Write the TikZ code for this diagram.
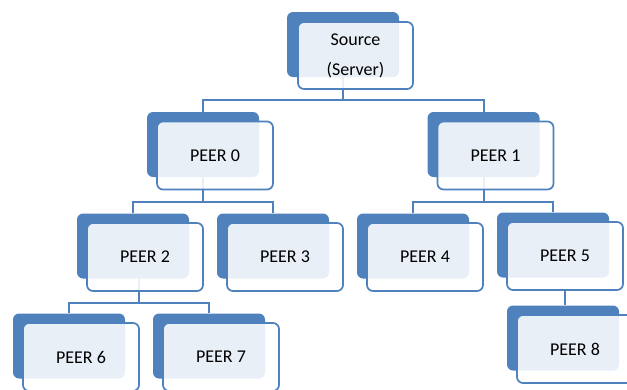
\documentclass[tikz,border=0pt]{standalone}
\usepackage{fontspec}
\setmainfont{Carlito}
\usetikzlibrary{positioning, backgrounds, calc}
\definecolor{hblue}{HTML}{4F81BD}
\tikzset{
  backbox/.style={rectangle, rounded corners=6pt, fill=hblue, minimum width=112pt,
    minimum height=65pt, inner sep=0pt},
  frontbox/.style={rectangle, draw=hblue, line width=1.7pt, rounded corners=6pt,
    fill=white, fill opacity=0.88, text opacity=1, minimum width=116pt,
    minimum height=68pt, align=center, inner sep=0pt,
    font=\fontsize{18}{30}\selectfont},
  link/.style={draw=hblue, line width=2pt},
}

\begin{document}
\begin{tikzpicture}[x=1pt, y=-1pt]
  \clip (0,0) rectangle (627,389);

  % Top: source
  \node[backbox] (src) at (343,44.5) {};
  \node[frontbox, minimum width=115pt, minimum height=67pt] (srcf) at ($(src)+(12.5,11)$) {Source\\(Server)};

  % Level 1
  \node[backbox] (p0) at (203,144.5) {};
  \node[frontbox] (p0f) at ($(p0)+(12,11)$) {PEER 0};
  \node[backbox] (p1) at (483.5,144.5) {};
  \node[frontbox] (p1f) at ($(p1)+(12,11)$) {PEER 1};

  % Level 2
  \node[backbox] (p2) at (133,246) {};
  \node[frontbox] (p2f) at ($(p2)+(12,11)$) {PEER 2};
  \node[backbox] (p3) at (273,246) {};
  \node[frontbox] (p3f) at ($(p3)+(12,11)$) {PEER 3};
  \node[backbox] (p4) at (413,246) {};
  \node[frontbox] (p4f) at ($(p4)+(12,11)$) {PEER 4};
  \node[backbox] (p5) at (553,245) {};
  \node[frontbox] (p5f) at ($(p5)+(12,11)$) {PEER 5};

  % Level 3
  \node[backbox] (p6) at (69,346) {};
  \node[frontbox] (p6f) at ($(p6)+(12,11)$) {PEER 6};
  \node[backbox] (p7) at (209,346) {};
  \node[frontbox] (p7f) at ($(p7)+(12,11)$) {PEER 7};
  \node[backbox] (p8) at (563,338) {};
  \node[frontbox] (p8f) at ($(p8)+(12,11)$) {PEER 8};

  % Connectors
  \begin{scope}[on background layer]
    \draw[link] (src.south) -- ++(0,23) -| (p0.north);
    \draw[link] (src.south) -- ++(0,23) -| (p1.north);
    \draw[link] (p0.south) -- ++(0,25) -| (p2.north);
    \draw[link] (p0.south) -- ++(0,25) -| (p3.north);
    \draw[link] (p1.south) -- ++(0,25) -| (p4.north);
    \draw[link] (p1.south) -- ++(0,25) -| (p5.north);
    \coordinate (j2) at ($(p6.north)!0.5!(p7.north)+(0,-10)$);
    \draw[link] (p6.north) -- ++(0,-10) -| (p7.north);
    \draw[link] (j2 |- p2.south) -- (j2);
    \draw[link] (p5f.south) -- (p5f.south |- p8.north);
  \end{scope}
\end{tikzpicture}
\end{document}
